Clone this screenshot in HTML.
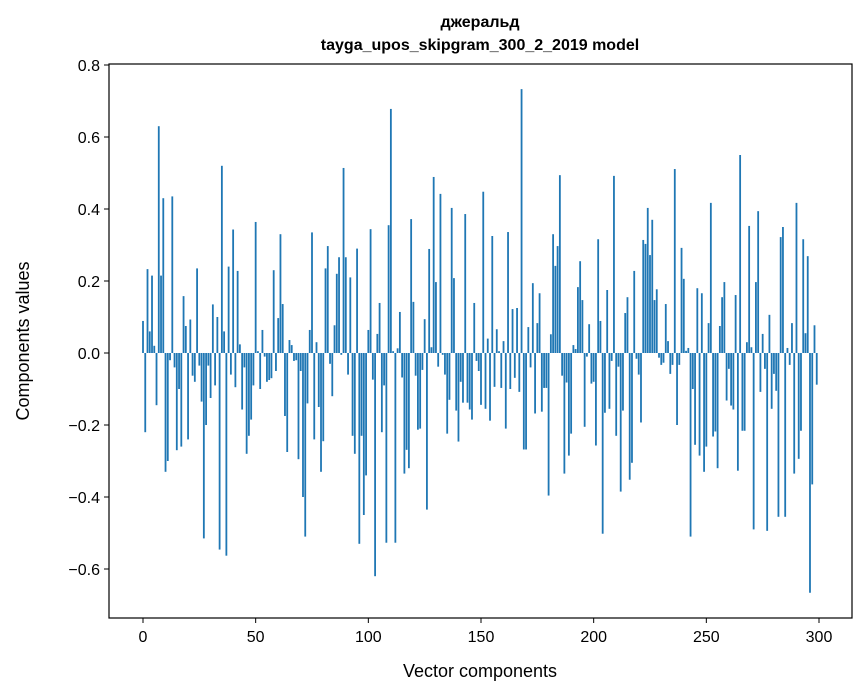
<!DOCTYPE html>
<html><head><meta charset="utf-8"><style>
body{margin:0;background:#fff;}
svg{display:block;font-family:"Liberation Sans","DejaVu Sans",sans-serif;}
</style></head><body>
<svg id="chart" width="867" height="696" viewBox="0 0 867 696" xmlns="http://www.w3.org/2000/svg">
<rect x="0" y="0" width="867" height="696" fill="#fff"/>
<text x="480" y="27" text-anchor="middle" font-size="16" font-weight="bold">джеральд</text>
<text x="480" y="50" text-anchor="middle" font-size="16" font-weight="bold">tayga_upos_skipgram_300_2_2019 model</text>
<g id="bars"></g>
<g id="axes"></g>
<text x="480" y="677" text-anchor="middle" font-size="18">Vector components</text>
<text transform="translate(29,341) rotate(-90)" text-anchor="middle" font-size="18">Components values</text>
</svg>
<script>
const values = [
0.089,-0.22,0.233,0.06,0.215,0.02,-0.145,0.63,0.215,0.43,
-0.33,-0.30,-0.02,0.435,-0.04,-0.27,-0.1,-0.26,0.158,0.075,
-0.24,0.093,-0.063,-0.08,0.235,-0.035,-0.135,-0.515,-0.20,-0.035,
-0.125,0.135,-0.09,0.1,-0.546,0.52,0.06,-0.563,0.24,-0.06,
0.343,-0.095,0.228,0.024,-0.157,-0.04,-0.28,-0.23,-0.185,-0.09,
0.364,0.005,-0.10,0.064,-0.01,-0.08,-0.075,-0.07,0.23,-0.05,
0.097,0.33,0.136,-0.175,-0.275,0.036,0.022,-0.022,-0.02,-0.295,
-0.05,-0.40,-0.51,-0.14,0.064,0.335,-0.24,0.03,-0.15,-0.33,
-0.245,0.235,0.297,-0.03,-0.12,0.077,0.22,0.266,-0.005,0.514,
0.266,-0.06,0.21,-0.23,-0.28,0.29,-0.53,-0.23,-0.45,-0.34,
0.064,0.344,-0.074,-0.62,0.053,0.139,-0.22,-0.09,-0.527,0.355,
0.678,0.005,-0.527,0.013,0.114,-0.068,-0.335,-0.269,-0.32,0.372,
0.142,-0.063,-0.213,-0.21,-0.047,0.094,-0.435,0.289,0.016,0.489,
0.197,-0.038,0.442,-0.005,-0.06,-0.224,-0.13,0.403,0.208,-0.16,
-0.246,-0.08,-0.138,0.386,-0.138,-0.157,-0.185,0.139,-0.022,
-0.05,-0.144,0.448,-0.155,0.04,-0.188,0.325,-0.094,0.066,0.005,
-0.097,0.033,-0.21,0.336,-0.1,0.122,-0.069,0.125,-0.108,0.733,
-0.268,-0.268,0.072,-0.04,0.194,-0.168,0.083,0.166,-0.163,-0.097,
-0.097,-0.396,0.052,0.33,0.242,0.297,0.494,-0.063,-0.335,-0.082,
-0.285,-0.224,0.022,0.011,0.183,0.255,0.147,-0.205,-0.01,0.08,
-0.085,-0.08,-0.257,0.316,0.089,-0.502,-0.166,0.175,-0.155,-0.022,
0.492,-0.23,-0.038,-0.385,-0.16,0.111,0.155,-0.352,-0.305,0.228,
-0.016,-0.06,-0.193,0.314,0.303,0.403,0.272,0.37,0.147,0.177,
-0.013,-0.033,-0.027,0.136,0.033,-0.058,-0.033,0.511,-0.2,-0.033,
0.292,0.206,0.006,0.014,-0.51,-0.1,-0.255,0.18,-0.285,0.166,
-0.33,-0.26,0.083,0.417,-0.232,-0.218,-0.32,0.075,0.155,0.197,
-0.132,-0.044,-0.146,-0.157,0.161,-0.327,0.55,-0.216,-0.216,0.03,
0.353,0.016,-0.49,0.197,0.394,-0.108,0.053,-0.044,-0.494,0.106,
-0.155,-0.058,-0.105,-0.455,0.322,0.35,-0.455,0.014,-0.033,0.083,
-0.335,0.417,-0.294,-0.216,0.316,0.055,0.269,-0.666,-0.365,0.077,
-0.088
];
const xTicks = [0,50,100,150,200,250,300];
const yTicks = [0.8,0.6,0.4,0.2,0.0,-0.2,-0.4,-0.6];
const yTickLabels = ["0.8","0.6","0.4","0.2","0.0","\u22120.2","\u22120.4","\u22120.6"];

const L=109,R=852,T=64,B=618;
const xs = i => 143 + i*(819-143)/300;
const ys = v => 353 - v*360;
const NS="http://www.w3.org/2000/svg";
const bars=document.getElementById('bars');
const bw=0.8*(819-143)/300;
values.forEach((v,i)=>{
  const r=document.createElementNS(NS,'rect');
  const y0=ys(0), y1=ys(v);
  r.setAttribute('x',xs(i)-bw/2);
  r.setAttribute('y',Math.min(y0,y1));
  r.setAttribute('width',bw);
  r.setAttribute('height',Math.max(Math.abs(y1-y0),0.3));
  r.setAttribute('fill','#1f77b4');
  
  
  bars.appendChild(r);
});
const axes=document.getElementById('axes');
const frame=document.createElementNS(NS,'rect');
frame.setAttribute('x',L);frame.setAttribute('y',T);frame.setAttribute('width',R-L);frame.setAttribute('height',B-T);
frame.setAttribute('fill','none');frame.setAttribute('stroke','#000');frame.setAttribute('stroke-width','1.2');


axes.appendChild(frame);
xTicks.forEach(t=>{
  const x=xs(t);
  const l=document.createElementNS(NS,'line');
  l.setAttribute('x1',x);l.setAttribute('x2',x);l.setAttribute('y1',B);l.setAttribute('y2',B+5);l.setAttribute('stroke','#000');
  
  
  axes.appendChild(l);
  const tx=document.createElementNS(NS,'text');
  tx.setAttribute('x',x);tx.setAttribute('y',B+24);tx.setAttribute('text-anchor','middle');tx.setAttribute('font-size','16');
  tx.textContent=String(t);
  
  
  axes.appendChild(tx);
});
yTicks.forEach((t,i)=>{
  const y=ys(t);
  const l=document.createElementNS(NS,'line');
  l.setAttribute('x1',L-5);l.setAttribute('x2',L);l.setAttribute('y1',y);l.setAttribute('y2',y);l.setAttribute('stroke','#000');
  
  
  axes.appendChild(l);
  const tx=document.createElementNS(NS,'text');
  tx.setAttribute('x',L-9);tx.setAttribute('y',y+6);tx.setAttribute('text-anchor','end');tx.setAttribute('font-size','16');
  tx.textContent=yTickLabels[i];
  
  
  axes.appendChild(tx);
});
</script>
</body></html>
